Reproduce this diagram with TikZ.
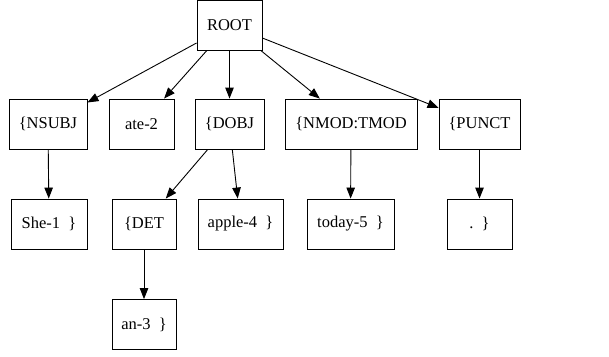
\documentclass[tikz,border=0pt]{standalone}
\usepackage{fontspec}
\setmainfont{Liberation Serif}
\usetikzlibrary{arrows.meta}
\begin{document}
\begin{tikzpicture}[x=1pt,y=-1pt,
  box/.style={draw,line width=0.9pt,rectangle,inner sep=0pt,minimum height=50pt,font=\fontsize{16.5}{18}\selectfont},
  edge/.style={draw,line width=0.9pt,-{Triangle[length=11pt,width=8.5pt]}}]
\useasboundingbox (0,0) rectangle (609,356);
\node[box,minimum width=65pt] (root) at (229.5,25) {ROOT};
\node[box,minimum width=78pt] (nsubj) at (48,124) {\{NSUBJ};
\node[box,minimum width=65pt] (ate) at (141.5,124) {ate-2};
\node[box,minimum width=69pt] (dobj) at (229.5,124) {\{DOBJ};
\node[box,minimum width=132pt] (nmod) at (351,124) {\{NMOD:TMOD};
\node[box,minimum width=81pt] (punct) at (479.5,124) {\{PUNCT};
\node[box,minimum width=76pt] (she) at (49,224) {She-1~~\}};
\node[box,minimum width=64pt] (det) at (144,224) {\{DET};
\node[box,minimum width=85pt] (apple) at (240.5,224) {apple-4~~\}};
\node[box,minimum width=87pt] (today) at (350.5,224) {today-5~~\}};
\node[box,minimum width=65pt] (dot) at (479.5,224) {.~~\}};
\node[box,minimum width=64pt] (an) at (144,324.5) {an-3~~\}};
\path[edge] (root) -- (nsubj);
\path[edge] (root) -- (ate);
\path[edge] (root) -- (dobj);
\path[edge] (root) -- (nmod);
\path[edge] (root) -- (punct);
\path[edge] (nsubj) -- (she);
\path[edge] (dobj) -- (det);
\path[edge] (dobj) -- (apple);
\path[edge] (nmod) -- (today);
\path[edge] (punct) -- (dot);
\path[edge] (det) -- (an);
\end{tikzpicture}
\end{document}
